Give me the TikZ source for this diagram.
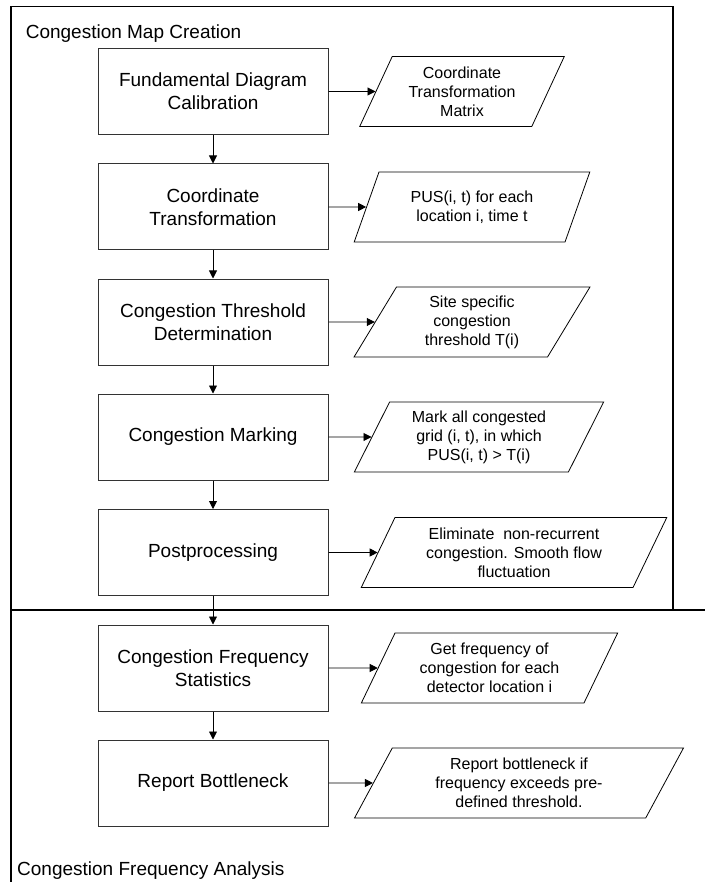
\documentclass[tikz,border=0pt]{standalone}
\usepackage{fontspec}
\setmainfont{Liberation Sans}
\usetikzlibrary{shapes.geometric,arrows.meta}

\begin{document}
\begin{tikzpicture}[x=1pt,y=-1pt,
  >={Triangle[length=8pt,width=8pt]},
  stepbox/.style={draw=black!80, line width=1pt, minimum width=230pt, minimum height=86pt,
    inner sep=0pt, align=center, font=\fontsize{19}{22.7}\selectfont},
  iobox/.style={draw, line width=0.8pt, trapezium, trapezium left angle=63.4,
    trapezium right angle=116.6, trapezium stretches=true, minimum height=70pt,
    inner sep=0pt, align=center, font=\fontsize{16}{19}\selectfont},
  frameline/.style={line width=1.3pt}]
  \useasboundingbox (0,0) rectangle (705,882);

  % frame of the two stages
  \draw[frameline] (11,610) -- (11,6.7) -- (673,6.7) -- (673,610);
  \draw[frameline] (11,610) -- (11,882);
  \draw[frameline] (11,610) -- (705,610);
  \node[anchor=base west, inner sep=0pt, font=\fontsize{19}{22.7}\selectfont] (map) at (25.6,39) {Congestion Map Creation};
  \node[anchor=base west, inner sep=0pt, font=\fontsize{19}{22.7}\selectfont] (freq) at (17,875) {Congestion Frequency Analysis};

  % steps
  \node[stepbox] (b1) at (213,91.5) {Fundamental Diagram\\Calibration};
  \node[stepbox] (b2) at (213,207) {Coordinate\\Transformation};
  \node[stepbox] (b3) at (213,322) {Congestion Threshold\\Determination};
  \node[stepbox] (b4) at (213,437) {Congestion Marking};
  \node[stepbox] (b5) at (213,552.5) {Postprocessing};
  \node[stepbox] (b6) at (213,668) {Congestion Frequency\\Statistics};
  \node[stepbox] (b7) at (213,783) {Report Bottleneck};

  % outputs
  \node[iobox, minimum width=205pt] (p1) at (462,91.5) {Coordinate\\Transformation\\Matrix};
  \node[iobox, minimum width=236pt] (p2) at (472,207) {PUS(i, t) for each\\location i, time t};
  \node[iobox, minimum width=236pt] (p3) at (472,322) {Site specific\\congestion\\threshold T(i)};
  \node[iobox, minimum width=250pt] (p4) at (479,437) {Mark all congested\\grid (i, t), in which\\PUS(i, t) > T(i)};
  \node[iobox, minimum width=306pt] (p5) at (514,552.5) {Eliminate\ \ non-recurrent\\congestion. Smooth flow\\fluctuation};
  \node[iobox, minimum width=257pt] (p6) at (489.5,668) {Get frequency of\\congestion for each\\detector location i};
  \node[iobox, minimum width=330pt] (p7) at (519,783) {Report bottleneck if\\frequency exceeds pre-\\defined threshold.};

  \foreach \i [count=\j from 2] in {1,...,6} \draw[->, line width=0.9pt] (b\i.south) -- (b\j.north);
  \foreach \i in {1,...,7} \draw[->, line width=0.9pt] (b\i.east) -- (p\i.west);
\end{tikzpicture}
\end{document}
